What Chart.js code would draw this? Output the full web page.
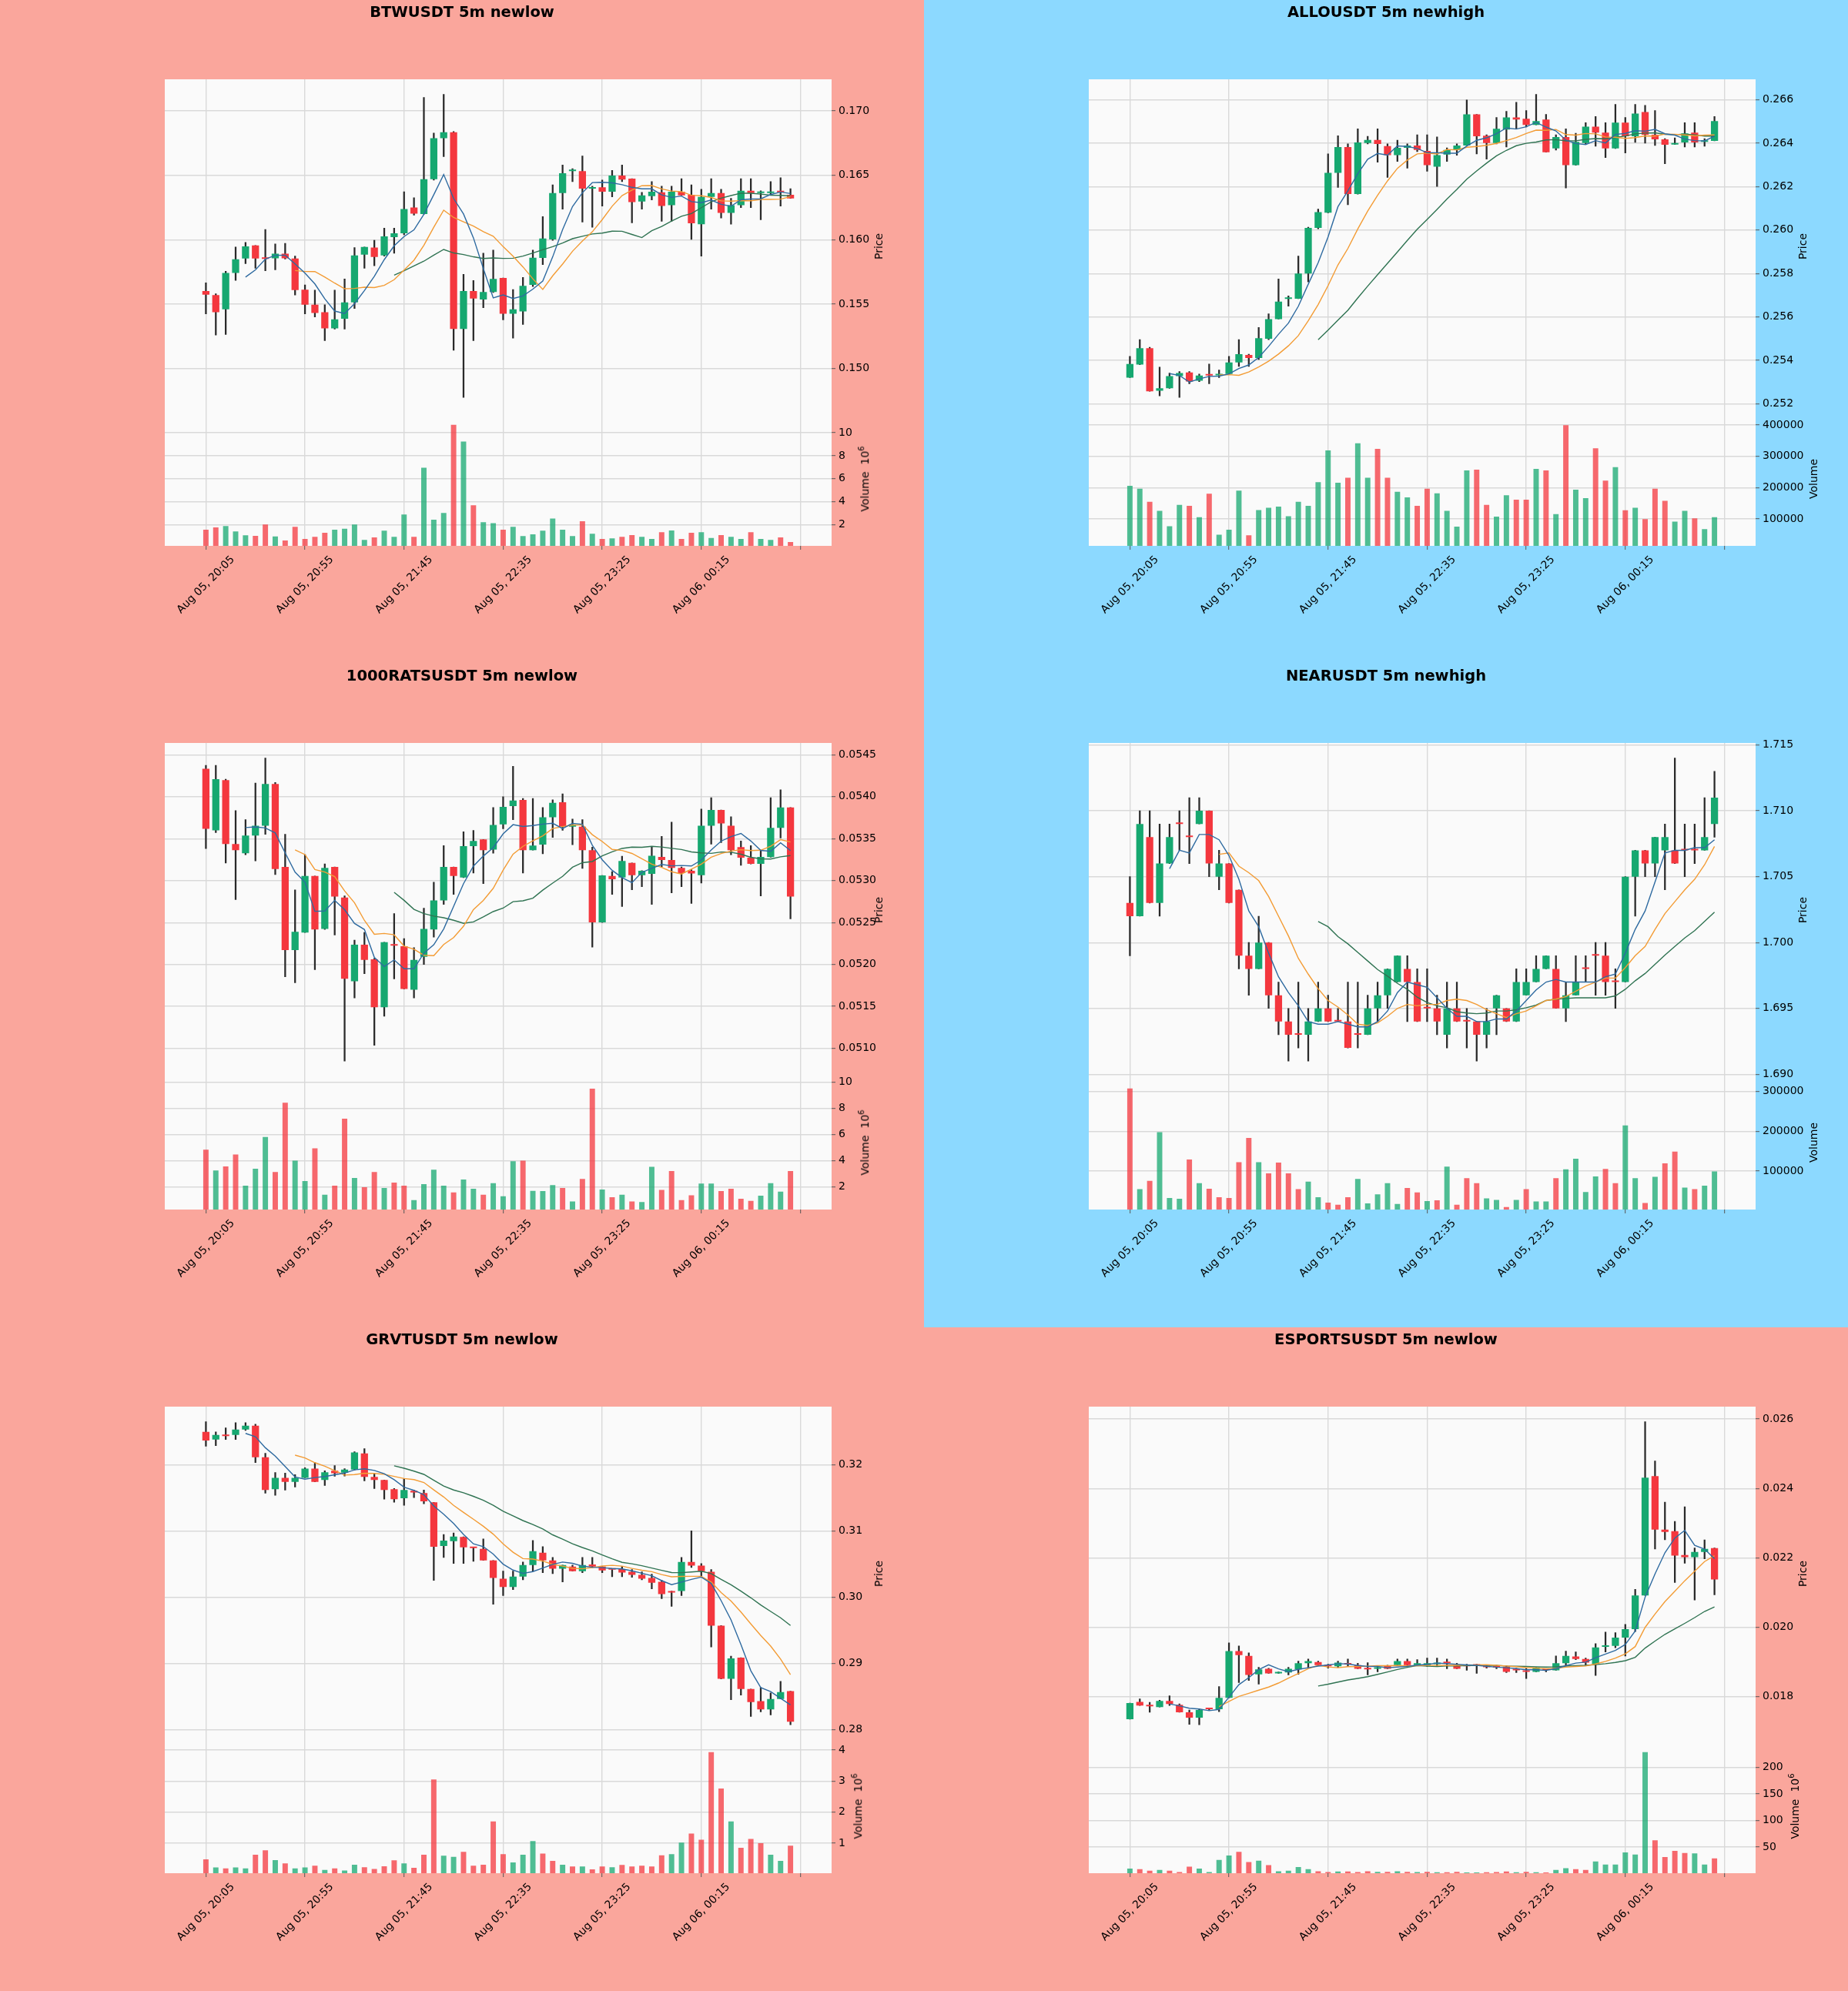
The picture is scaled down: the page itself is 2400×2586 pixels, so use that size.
<!DOCTYPE html>
<html>
<head>
<meta charset="utf-8">
<script src="https://cdn.jsdelivr.net/npm/chart.js@4.4.1/dist/chart.umd.min.js"></script>
<style>
  body { margin: 0; width: 2400px; height: 2586px; position: relative; overflow: hidden; background: #fff; font-family: "DejaVu Sans", sans-serif; }
  .panel { position: absolute; width: 1200px; height: 862px; }
  .panel canvas { position: absolute; left: 0; top: 0; }
  .ttl { position: absolute; left: 0; top: 4px; width: 1200px; text-align: center; font-weight: bold; font-size: 19.5px; color: #000; }
  .ylab { position: absolute; font-size: 14px; color: #000; white-space: nowrap; transform: translate(-50%, -50%) rotate(-90deg); }
  .ylab sup { font-size: 10px; }
</style>
</head>
<body>
<script>
// time axis, shared by all six charts (one tick every 10 candles)
const timeTickAt = [0, 10, 20, 30, 40, 50, 60];
const timeLabels = ['Aug 05, 20:05', 'Aug 05, 20:55', 'Aug 05, 21:45', 'Aug 05, 22:35', 'Aug 05, 23:25', 'Aug 06, 00:15', ''];

// BTWUSDT
const btwOpen = [0.15602,0.15571,0.15460,0.15743,0.15854,0.15956,0.15858,0.15856,0.15892,0.15854,
  0.15613,0.15496,0.15437,0.15312,0.15387,0.15514,0.15885,0.15939,0.15878,0.16021,
  0.16050,0.16250,0.16199,0.16470,0.16788,0.16835,0.15307,0.15602,0.15536,0.15595,
  0.15703,0.15425,0.15444,0.15649,0.15859,0.16003,0.16363,0.16533,0.16533,0.16397,
  0.16408,0.16373,0.16498,0.16474,0.16297,0.16339,0.16368,0.16269,0.16373,0.16349,
  0.16120,0.16333,0.16363,0.16208,0.16269,0.16380,0.16363,0.16363,0.16372,0.16349];
const btwHigh = [0.15665,0.15580,0.15755,0.15944,0.15979,0.15956,0.16080,0.15967,0.15972,0.15873,
  0.15649,0.15609,0.15496,0.15609,0.15696,0.15939,0.15944,0.15996,0.16090,0.16090,
  0.16373,0.16326,0.17104,0.16828,0.17128,0.16840,0.15732,0.15684,0.15896,0.15920,
  0.15703,0.15614,0.15708,0.15920,0.16180,0.16427,0.16580,0.16552,0.16651,0.16416,
  0.16463,0.16538,0.16580,0.16474,0.16368,0.16451,0.16416,0.16416,0.16474,0.16427,
  0.16392,0.16474,0.16392,0.16321,0.16474,0.16474,0.16380,0.16451,0.16481,0.16396];
const btwLow = [0.15425,0.15260,0.15264,0.15684,0.15814,0.15779,0.15760,0.15767,0.15850,0.15571,
  0.15425,0.15401,0.15217,0.15307,0.15307,0.15467,0.15779,0.15798,0.15873,0.15896,
  0.16038,0.16191,0.16199,0.16463,0.16646,0.15142,0.14776,0.15217,0.15472,0.15590,
  0.15378,0.15236,0.15342,0.15637,0.15807,0.15996,0.16238,0.16451,0.16137,0.16097,
  0.16262,0.16333,0.16451,0.16132,0.16238,0.16309,0.16144,0.16144,0.16345,0.16003,
  0.15873,0.16238,0.16168,0.16121,0.16250,0.16250,0.16156,0.16345,0.16262,0.16321];
const btwClose = [0.15573,0.15437,0.15743,0.15849,0.15948,0.15854,0.15852,0.15892,0.15856,0.15609,
  0.15496,0.15432,0.15312,0.15382,0.15514,0.15878,0.15944,0.15866,0.16026,0.16050,
  0.16238,0.16203,0.16470,0.16788,0.16835,0.15307,0.15602,0.15543,0.15595,0.15696,
  0.15425,0.15460,0.15642,0.15861,0.16010,0.16363,0.16517,0.16538,0.16397,0.16404,
  0.16373,0.16498,0.16467,0.16293,0.16344,0.16373,0.16262,0.16373,0.16345,0.16128,
  0.16333,0.16363,0.16208,0.16269,0.16380,0.16363,0.16370,0.16372,0.16368,0.16321];
const btwVolume = [1.55,1.76,1.87,1.41,1.07,1.01,2.0,0.96,0.61,1.81,
  0.75,0.93,1.28,1.55,1.63,2.0,0.67,0.88,1.47,0.93,
  2.88,0.93,6.96,2.43,3.01,10.69,9.23,3.68,2.21,2.13,
  1.55,1.81,1.0,1.15,1.47,2.53,1.55,1.0,2.29,1.2,
  0.75,0.8,0.93,1.09,0.93,0.75,1.33,1.49,0.75,1.28,
  1.33,0.83,1.09,0.93,0.75,1.33,0.75,0.67,0.88,0.48];
const btwPriceTicks = [0.150, 0.155, 0.160, 0.165, 0.170];
const btwVolumeTicks = [2, 4, 6, 8, 10];

// ALLOUSDT
const alloOpen = [0.25320,0.25380,0.25456,0.25260,0.25271,0.25327,0.25344,0.25306,0.25332,0.25331,
  0.25337,0.25390,0.25425,0.25411,0.25499,0.25590,0.25683,0.25684,0.25800,0.26010,
  0.26080,0.26264,0.26383,0.26166,0.26401,0.26415,0.26387,0.26345,0.26379,0.26390,
  0.26365,0.26292,0.26348,0.26369,0.26390,0.26533,0.26435,0.26401,0.26463,0.26519,
  0.26513,0.26485,0.26509,0.26376,0.26429,0.26299,0.26401,0.26477,0.26449,0.26376,
  0.26495,0.26432,0.26544,0.26439,0.26418,0.26394,0.26404,0.26449,0.26407,0.26411];
const alloHigh = [0.25418,0.25495,0.25460,0.25369,0.25341,0.25348,0.25348,0.25337,0.25383,0.25355,
  0.25418,0.25495,0.25428,0.25551,0.25614,0.25775,0.25697,0.25880,0.26013,0.26097,
  0.26351,0.26435,0.26397,0.26467,0.26432,0.26467,0.26397,0.26414,0.26397,0.26439,
  0.26439,0.26429,0.26379,0.26397,0.26600,0.26533,0.26439,0.26519,0.26547,0.26589,
  0.26551,0.26625,0.26533,0.26439,0.26467,0.26446,0.26495,0.26523,0.26495,0.26579,
  0.26519,0.26579,0.26575,0.26551,0.26421,0.26425,0.26495,0.26495,0.26421,0.26523];
const alloLow = [0.25320,0.25380,0.25257,0.25236,0.25271,0.25229,0.25292,0.25302,0.25292,0.25320,
  0.25334,0.25372,0.25372,0.25404,0.25495,0.25590,0.25649,0.25684,0.25761,0.26006,
  0.26080,0.26197,0.26117,0.26166,0.26397,0.26313,0.26243,0.26316,0.26285,0.26362,
  0.26271,0.26201,0.26316,0.26345,0.26390,0.26351,0.26327,0.26397,0.26383,0.26467,
  0.26475,0.26485,0.26359,0.26369,0.26194,0.26299,0.26397,0.26386,0.26334,0.26376,
  0.26355,0.26404,0.26401,0.26390,0.26306,0.26394,0.26383,0.26383,0.26386,0.26411];
const alloClose = [0.25383,0.25456,0.25257,0.25271,0.25327,0.25341,0.25302,0.25330,0.25330,0.25334,
  0.25390,0.25428,0.25411,0.25502,0.25590,0.25670,0.25684,0.25800,0.26010,0.26083,
  0.26264,0.26383,0.26166,0.26404,0.26415,0.26397,0.26345,0.26379,0.26390,0.26369,
  0.26299,0.26345,0.26369,0.26390,0.26533,0.26432,0.26401,0.26467,0.26519,0.26509,
  0.26485,0.26502,0.26359,0.26429,0.26299,0.26407,0.26477,0.26449,0.26376,0.26495,
  0.26432,0.26537,0.26439,0.26418,0.26393,0.26401,0.26446,0.26404,0.26411,0.26502];
const alloVolume = [206000,197000,155000,126000,77000,145000,142000,106000,181000,50000,
  66000,191000,48000,129000,136000,140000,109000,155000,142000,218000,
  319000,216000,232000,342000,232000,324000,232000,187000,169000,142000,
  197000,182000,126000,76000,255000,258000,145000,108000,176000,162000,
  162000,260000,255000,116000,400000,194000,167000,326000,223000,266000,
  128000,136000,100000,197000,158000,92000,126000,102000,68000,106000];
const alloPriceTicks = [0.252, 0.254, 0.256, 0.258, 0.260, 0.262, 0.264, 0.266];
const alloVolumeTicks = [100000, 200000, 300000, 400000];

// 1000RATSUSDT
const ratsOpen = [0.054333,0.053599,0.054198,0.053435,0.053326,0.053537,0.053653,0.054151,0.053163,0.052171,
  0.052381,0.053054,0.052425,0.053163,0.052799,0.051800,0.052236,0.052061,0.051491,0.052243,
  0.052218,0.051698,0.052091,0.052418,0.052763,0.053163,0.053036,0.053410,0.053490,0.053370,
  0.053671,0.053889,0.053962,0.053363,0.053428,0.053755,0.053933,0.053642,0.053642,0.053363,
  0.052501,0.053054,0.053036,0.053210,0.053065,0.053080,0.053283,0.053246,0.053152,0.053116,
  0.053065,0.053653,0.053842,0.053653,0.053399,0.053272,0.053199,0.053279,0.053628,0.053871];
const ratsHigh = [0.054373,0.054373,0.054209,0.053835,0.053726,0.054162,0.054460,0.054169,0.053552,0.052890,
  0.053308,0.053054,0.053199,0.053163,0.052817,0.052291,0.052381,0.052072,0.052265,0.052607,
  0.052309,0.052200,0.052672,0.052981,0.053417,0.053163,0.053581,0.053599,0.053490,0.053871,
  0.053999,0.054362,0.053980,0.053980,0.053871,0.053962,0.054035,0.053733,0.053726,0.053399,
  0.053061,0.053108,0.053290,0.053210,0.053119,0.053399,0.053526,0.053697,0.053163,0.053130,
  0.053853,0.053988,0.053842,0.053762,0.053472,0.053417,0.053363,0.053988,0.054082,0.053871];
const ratsLow = [0.053381,0.053573,0.053210,0.052774,0.053308,0.053235,0.053552,0.053072,0.051854,0.051782,
  0.052381,0.051938,0.052418,0.052352,0.050848,0.051600,0.051891,0.051037,0.051382,0.051829,
  0.051709,0.051600,0.052000,0.052327,0.052716,0.052836,0.053036,0.053090,0.052963,0.053326,
  0.053617,0.053726,0.053090,0.053363,0.053319,0.053515,0.053599,0.053428,0.053145,0.052207,
  0.052501,0.052836,0.052690,0.052890,0.052927,0.052716,0.053163,0.052854,0.052927,0.052727,
  0.052970,0.053435,0.053453,0.053308,0.053181,0.053199,0.052817,0.053279,0.053508,0.052545];
const ratsClose = [0.053617,0.054209,0.053435,0.053363,0.053537,0.053653,0.054151,0.053137,0.052171,0.052389,
  0.053054,0.052418,0.053152,0.052810,0.051829,0.052236,0.052054,0.051491,0.052265,0.052225,
  0.051709,0.052054,0.052425,0.052763,0.053163,0.053054,0.053410,0.053472,0.053363,0.053664,
  0.053879,0.053955,0.053363,0.053417,0.053755,0.053926,0.053642,0.053671,0.053363,0.052501,
  0.053061,0.053017,0.053235,0.053065,0.053116,0.053297,0.053246,0.053152,0.053090,0.053085,
  0.053653,0.053842,0.053682,0.053363,0.053272,0.053199,0.053283,0.053628,0.053871,0.052810];
const ratsVolume = [4.83,3.24,3.54,4.45,2.07,3.36,5.80,3.12,8.41,3.99,
  2.42,4.92,1.38,2.07,7.20,2.66,1.96,3.12,1.89,2.31,
  2.07,0.96,2.19,3.29,2.07,1.56,2.54,1.84,1.38,2.26,
  1.26,3.94,3.99,1.68,1.66,2.12,1.89,0.86,2.59,9.49,
  1.77,1.19,1.38,0.86,0.82,3.52,1.75,3.19,0.96,1.33,
  2.24,2.24,1.66,1.84,1.07,0.91,1.31,2.26,1.61,3.19];
const ratsPriceTicks = [0.0510, 0.0515, 0.0520, 0.0525, 0.0530, 0.0535, 0.0540, 0.0545];
const ratsVolumeTicks = [2, 4, 6, 8, 10];

// NEARUSDT
const nearOpen = [1.703,1.702,1.708,1.703,1.706,1.709,1.708,1.709,1.710,1.705,
  1.706,1.704,1.699,1.698,1.700,1.696,1.694,1.693,1.693,1.694,
  1.695,1.694,1.694,1.693,1.693,1.695,1.696,1.697,1.698,1.697,
  1.695,1.695,1.693,1.695,1.694,1.694,1.693,1.695,1.695,1.694,
  1.696,1.697,1.698,1.698,1.695,1.696,1.698,1.699,1.699,1.697,
  1.697,1.705,1.707,1.706,1.707,1.707,1.707,1.707,1.707,1.709];
const nearHigh = [1.705,1.710,1.710,1.709,1.709,1.710,1.711,1.711,1.710,1.707,
  1.706,1.704,1.700,1.702,1.700,1.697,1.695,1.697,1.695,1.697,
  1.696,1.695,1.697,1.697,1.696,1.697,1.698,1.699,1.699,1.698,
  1.698,1.696,1.697,1.697,1.695,1.694,1.695,1.696,1.695,1.698,
  1.698,1.699,1.699,1.699,1.697,1.699,1.699,1.700,1.700,1.698,
  1.705,1.707,1.707,1.708,1.709,1.714,1.709,1.709,1.711,1.713];
const nearLow = [1.699,1.702,1.703,1.702,1.706,1.707,1.706,1.709,1.705,1.704,
  1.703,1.698,1.696,1.698,1.695,1.693,1.691,1.692,1.691,1.694,
  1.694,1.694,1.692,1.692,1.693,1.694,1.695,1.697,1.694,1.694,
  1.694,1.693,1.692,1.694,1.692,1.691,1.692,1.693,1.694,1.694,
  1.696,1.697,1.698,1.695,1.694,1.696,1.697,1.696,1.696,1.695,
  1.697,1.702,1.705,1.705,1.704,1.706,1.705,1.706,1.707,1.708];
const nearClose = [1.702,1.709,1.703,1.706,1.708,1.709,1.708,1.710,1.706,1.706,
  1.703,1.699,1.698,1.700,1.696,1.694,1.693,1.693,1.694,1.695,
  1.694,1.694,1.692,1.693,1.695,1.696,1.698,1.699,1.697,1.694,
  1.695,1.694,1.695,1.694,1.694,1.693,1.694,1.696,1.694,1.697,
  1.697,1.698,1.699,1.695,1.696,1.697,1.698,1.699,1.697,1.697,
  1.705,1.707,1.706,1.708,1.708,1.706,1.707,1.707,1.708,1.711];
const nearVolume = [308000,54000,75000,198000,32000,30000,129000,69000,55000,34000,
  32000,122000,183000,122000,94000,121000,94000,54000,73000,34000,
  20000,15000,34000,80000,18000,41000,69000,17000,57000,46000,
  24000,26000,111000,15000,82000,69000,31000,27000,9000,27000,
  54000,23000,23000,82000,104000,131000,47000,86000,105000,69000,
  215000,82000,19000,85000,119000,149000,58000,54000,63000,99000];
const nearPriceTicks = [1.690, 1.695, 1.700, 1.705, 1.710, 1.715];
const nearVolumeTicks = [100000, 200000, 300000];

// GRVTUSDT
const grvtOpen = [0.32494,0.32379,0.32434,0.32448,0.32531,0.32587,0.32111,0.31630,0.31801,0.31741,
  0.31801,0.31940,0.31769,0.31908,0.31880,0.31926,0.32171,0.31815,0.31769,0.31630,
  0.31492,0.31607,0.31570,0.31432,0.30771,0.30845,0.30910,0.30753,0.30730,0.30554,
  0.30277,0.30152,0.30309,0.30485,0.30670,0.30554,0.30430,0.30462,0.30393,0.30494,
  0.30462,0.30416,0.30425,0.30383,0.30337,0.30291,0.30231,0.30069,0.30092,0.30531,
  0.30476,0.30383,0.29570,0.28767,0.29086,0.28614,0.28430,0.28305,0.28462,0.28582];
const grvtHigh = [0.32647,0.32494,0.32554,0.32633,0.32633,0.32610,0.32171,0.31880,0.31871,0.31848,
  0.31954,0.32032,0.31908,0.31986,0.31940,0.32194,0.32240,0.31871,0.31769,0.31640,
  0.31788,0.31617,0.31617,0.31432,0.30947,0.30970,0.30910,0.30753,0.30878,0.30554,
  0.30393,0.30393,0.30531,0.30855,0.30762,0.30600,0.30485,0.30485,0.30600,0.30600,
  0.30462,0.30416,0.30462,0.30416,0.30383,0.30346,0.30254,0.30092,0.30600,0.31002,
  0.30508,0.30416,0.29570,0.29109,0.29086,0.28614,0.28637,0.28554,0.28730,0.28582];
const grvtLow = [0.32277,0.32286,0.32379,0.32379,0.32517,0.32032,0.31570,0.31538,0.31617,0.31663,
  0.31801,0.31741,0.31686,0.31824,0.31829,0.31917,0.31755,0.31640,0.31478,0.31432,
  0.31386,0.31501,0.31409,0.30254,0.30600,0.30508,0.30508,0.30540,0.30554,0.29894,
  0.30023,0.30115,0.30263,0.30393,0.30370,0.30356,0.30231,0.30393,0.30370,0.30448,
  0.30370,0.30309,0.30309,0.30300,0.30263,0.30125,0.29977,0.29861,0.30023,0.30448,
  0.30323,0.29247,0.28767,0.28453,0.28522,0.28199,0.28268,0.28222,0.28462,0.28074];
const grvtClose = [0.32365,0.32448,0.32430,0.32531,0.32587,0.32111,0.31617,0.31801,0.31741,0.31801,
  0.31940,0.31741,0.31885,0.31871,0.31926,0.32185,0.31815,0.31769,0.31617,0.31478,
  0.31617,0.31580,0.31446,0.30762,0.30854,0.30915,0.30753,0.30739,0.30554,0.30291,
  0.30152,0.30309,0.30485,0.30693,0.30554,0.30430,0.30485,0.30393,0.30485,0.30462,
  0.30402,0.30416,0.30370,0.30337,0.30277,0.30217,0.30046,0.30069,0.30531,0.30476,
  0.30393,0.29570,0.28767,0.29076,0.28614,0.28416,0.28305,0.28462,0.28568,0.28120];
const grvtVolume = [0.48,0.22,0.19,0.22,0.19,0.63,0.77,0.46,0.35,0.19,
  0.22,0.28,0.14,0.19,0.12,0.31,0.23,0.17,0.26,0.45,
  0.35,0.21,0.63,3.05,0.60,0.56,0.72,0.28,0.31,1.70,
  0.65,0.38,0.63,1.07,0.67,0.43,0.31,0.25,0.25,0.16,
  0.25,0.23,0.30,0.25,0.28,0.25,0.61,0.65,1.02,1.31,
  1.11,3.93,2.76,1.70,0.85,1.14,1.00,0.63,0.43,0.92];
const grvtPriceTicks = [0.28, 0.29, 0.30, 0.31, 0.32];
const grvtVolumeTicks = [1, 2, 3, 4];

// ESPORTSUSDT
const espOpen = [0.017349,0.017850,0.017763,0.017701,0.017877,0.017763,0.017551,0.017393,0.017640,0.017640,
  0.017965,0.019313,0.019172,0.018644,0.018802,0.018670,0.018696,0.018785,0.018961,0.018996,
  0.018908,0.018873,0.018961,0.018908,0.018820,0.018802,0.018890,0.018908,0.019023,0.018908,
  0.018890,0.018935,0.018961,0.018908,0.018873,0.018890,0.018890,0.018873,0.018864,0.018758,
  0.018758,0.018714,0.018767,0.018758,0.018961,0.019155,0.019085,0.018935,0.019437,0.019463,
  0.019701,0.019947,0.020917,0.024353,0.022811,0.022767,0.022080,0.022018,0.022168,0.022282];
const espHigh = [0.017815,0.017938,0.017834,0.017895,0.018027,0.017789,0.017613,0.017640,0.017657,0.018291,
  0.019551,0.019463,0.019260,0.018846,0.018820,0.018714,0.018846,0.019023,0.019085,0.019023,
  0.018935,0.019023,0.019085,0.018961,0.018979,0.018864,0.018908,0.019085,0.019085,0.019067,
  0.019111,0.019111,0.019085,0.018961,0.018935,0.018935,0.018908,0.018908,0.018890,0.018820,
  0.018820,0.018846,0.018802,0.019172,0.019313,0.019287,0.019111,0.019525,0.019859,0.019842,
  0.020080,0.021093,0.025921,0.024793,0.023604,0.023049,0.023471,0.022282,0.022520,0.022282];
const espLow = [0.017349,0.017745,0.017551,0.017701,0.017745,0.017551,0.017199,0.017190,0.017613,0.017569,
  0.017965,0.018406,0.018467,0.018362,0.018670,0.018670,0.018626,0.018644,0.018846,0.018890,
  0.018820,0.018846,0.018873,0.018802,0.018626,0.018714,0.018802,0.018908,0.018890,0.018890,
  0.018873,0.018890,0.018802,0.018802,0.018758,0.018670,0.018820,0.018802,0.018696,0.018696,
  0.018520,0.018714,0.018714,0.018758,0.018890,0.019067,0.018908,0.018609,0.019287,0.019410,
  0.019172,0.019877,0.020917,0.022256,0.022520,0.021287,0.021843,0.020784,0.021974,0.020934];
const espClose = [0.017815,0.017745,0.017719,0.017877,0.017789,0.017551,0.017393,0.017613,0.017640,0.017965,
  0.019313,0.019199,0.018626,0.018785,0.018670,0.018714,0.018802,0.018961,0.019023,0.018908,
  0.018873,0.018979,0.018926,0.018802,0.018785,0.018847,0.018802,0.019023,0.018908,0.018961,
  0.018961,0.018979,0.018961,0.018802,0.018873,0.018890,0.018846,0.018838,0.018714,0.018758,
  0.018714,0.018846,0.018767,0.018961,0.019172,0.019085,0.018979,0.019419,0.019472,0.019701,
  0.019947,0.020917,0.024308,0.022811,0.022749,0.022062,0.022018,0.022168,0.022256,0.021375];
const espVolume = [9.4,8.3,5.4,6.6,5.4,2.6,12.9,9.4,2.6,25.5,
  34.1,41.0,21.5,24.3,15.7,4.3,5.4,12.3,8.3,4.3,
  2.6,3.7,3.7,2.6,4.3,3.2,3.2,4.3,3.2,2.6,
  3.0,2.5,2.5,3.0,2.0,2.0,2.5,2.8,4.0,2.5,
  3.0,2.5,2.0,6.6,10.0,8.3,6.6,22.6,16.9,16.9,
  39.8,35.8,228.8,62.7,31.2,42.7,38.7,38.1,16.9,28.4];
const espPriceTicks = [0.018, 0.020, 0.022, 0.024, 0.026];
const espVolumeTicks = [50, 100, 150, 200];

const maLengths = [5, 10, 20];
const maColors = ['#2e6aa0', '#f39c35', '#2f7352'];
const upColor = '#16a870', downColor = '#f4373e';
const upVolColor = 'rgba(22,168,112,0.75)', downVolColor = 'rgba(244,55,62,0.75)';
const wickColor = '#2a2a2a';
const lowBg = '#faa69c', highBg = '#8cd9ff';

Chart.defaults.font.family = 'DejaVu Sans';
Chart.defaults.font.size = 14;
Chart.defaults.color = '#000';

const panels = [
  { title: 'BTWUSDT 5m newlow', bg: lowBg, x: 0, y: 0, open: btwOpen, high: btwHigh, low: btwLow, close: btwClose,
    volume: btwVolume, priceTicks: btwPriceTicks, digits: 3, volumeTicks: btwVolumeTicks, exp: true, volLabelX: 1122 },
  { title: 'ALLOUSDT 5m newhigh', bg: highBg, x: 1200, y: 0, open: alloOpen, high: alloHigh, low: alloLow, close: alloClose,
    volume: alloVolume, priceTicks: alloPriceTicks, digits: 3, volumeTicks: alloVolumeTicks, exp: false, volLabelX: 1155 },
  { title: '1000RATSUSDT 5m newlow', bg: lowBg, x: 0, y: 862, open: ratsOpen, high: ratsHigh, low: ratsLow, close: ratsClose,
    volume: ratsVolume, priceTicks: ratsPriceTicks, digits: 4, volumeTicks: ratsVolumeTicks, exp: true, volLabelX: 1122 },
  { title: 'NEARUSDT 5m newhigh', bg: highBg, x: 1200, y: 862, open: nearOpen, high: nearHigh, low: nearLow, close: nearClose,
    volume: nearVolume, priceTicks: nearPriceTicks, digits: 3, volumeTicks: nearVolumeTicks, exp: false, volLabelX: 1155 },
  { title: 'GRVTUSDT 5m newlow', bg: lowBg, x: 0, y: 1724, open: grvtOpen, high: grvtHigh, low: grvtLow, close: grvtClose,
    volume: grvtVolume, priceTicks: grvtPriceTicks, digits: 2, volumeTicks: grvtVolumeTicks, exp: true, volLabelX: 1113 },
  { title: 'ESPORTSUSDT 5m newlow', bg: lowBg, x: 1200, y: 1724, open: espOpen, high: espHigh, low: espLow, close: espClose,
    volume: espVolume, priceTicks: espPriceTicks, digits: 3, volumeTicks: espVolumeTicks, exp: true, volLabelX: 1130 }
];

// plot face colour behind the grid
const facePlugin = {
  id: 'face',
  beforeDraw(chart) {
    const a = chart.chartArea, ctx = chart.ctx;
    ctx.save();
    ctx.fillStyle = '#fafafa';
    ctx.fillRect(a.left, a.top, a.right - a.left, a.bottom - a.top);
    ctx.restore();
  }
};

// 45 degree time labels centred under their tick (matplotlib style)
const timeLabelPlugin = {
  id: 'timeLabels',
  afterDraw(chart) {
    const xs = chart.scales.x, ctx = chart.ctx;
    const top = chart.chartArea.bottom + 10;
    ctx.save();
    ctx.font = '14px "DejaVu Sans"';
    ctx.fillStyle = '#000';
    ctx.textAlign = 'center';
    ctx.textBaseline = 'middle';
    timeTickAt.forEach((t, k) => {
      const label = timeLabels[k];
      if (!label) return;
      const half = (ctx.measureText(label).width + 16) * Math.SQRT1_2 / 2;
      ctx.save();
      ctx.translate(xs.getPixelForValue(t), top + half);
      ctx.rotate(-Math.PI / 4);
      ctx.fillText(label, 0, 0);
      ctx.restore();
    });
    ctx.restore();
  }
};

function movingAverage(values, n) {
  const out = [];
  for (let i = n - 1; i < values.length; i++) {
    let s = 0;
    for (let k = i - n + 1; k <= i; k++) s += values[k];
    out.push({ x: i, y: s / n });
  }
  return out;
}

function makePanel(p) {
  const box = document.createElement('div');
  box.className = 'panel';
  box.style.left = p.x + 'px';
  box.style.top = p.y + 'px';
  box.style.background = p.bg;
  document.body.appendChild(box);

  const canvas = document.createElement('canvas');
  canvas.width = 1200;
  canvas.height = 862;
  box.appendChild(canvas);

  const title = document.createElement('div');
  title.className = 'ttl';
  title.textContent = p.title;
  box.appendChild(title);

  const priceLabel = document.createElement('div');
  priceLabel.className = 'ylab';
  priceLabel.style.left = '1141px';
  priceLabel.style.top = '320px';
  priceLabel.textContent = 'Price';
  box.appendChild(priceLabel);

  const volLabel = document.createElement('div');
  volLabel.className = 'ylab';
  volLabel.style.left = p.volLabelX + 'px';
  volLabel.style.top = '622px';
  volLabel.innerHTML = p.exp ? 'Volume&nbsp;&nbsp;10<sup>6</sup>' : 'Volume';
  box.appendChild(volLabel);

  const lo = Math.min(...p.low), hi = Math.max(...p.high);
  const pad = (hi - lo) * 0.05;

  const datasets = [];
  datasets.push({
    type: 'bar', yAxisID: 'y', order: 3, grouped: false,
    data: p.close.map((c, i) => ({ x: i, y: [p.low[i], p.high[i]] })),
    backgroundColor: wickColor, barThickness: 1.6
  });
  datasets.push({
    type: 'bar', yAxisID: 'y', order: 2, grouped: false,
    data: p.close.map((c, i) => ({ x: i, y: [p.open[i], c] })),
    backgroundColor: p.close.map((c, i) => c > p.open[i] ? upColor : downColor),
    barPercentage: 0.72, categoryPercentage: 1, minBarLength: 2
  });
  maLengths.forEach((len, k) => {
    datasets.push({
      type: 'line', yAxisID: 'y', order: 0,
      data: movingAverage(p.close, len),
      borderColor: maColors[k], borderWidth: 1.4, pointRadius: 0, tension: 0
    });
  });
  datasets.push({
    type: 'bar', yAxisID: 'v', order: 2, grouped: false,
    data: p.volume.map((v, i) => ({ x: i, y: v })),
    backgroundColor: p.close.map((c, i) => c > (i === 0 ? p.open[0] : p.close[i - 1]) ? upVolColor : downVolColor),
    barPercentage: 0.54, categoryPercentage: 1
  });

  const gridStyle = { color: '#d9d9d9', lineWidth: 1.4, tickLength: 5, tickColor: '#555', tickWidth: 1 };

  new Chart(canvas, {
    type: 'bar',
    data: { datasets },
    options: {
      responsive: false,
      animation: false,
      devicePixelRatio: 1,
      layout: { padding: { left: 214, top: 103, right: 0, bottom: 0 } },
      plugins: { legend: { display: false }, tooltip: { enabled: false } },
      scales: {
        x: {
          type: 'linear', min: -4.15, max: 63.15, offset: false,
          grid: Object.assign({ offset: false }, gridStyle),
          border: { display: false },
          afterBuildTicks: s => { s.ticks = timeTickAt.map(v => ({ value: v })); },
          afterFit: s => { s.height = 153; },
          ticks: { display: false }
        },
        y: {
          type: 'linear', position: 'right', stack: 'pv', stackWeight: 5,
          min: lo - pad, max: hi + pad,
          grid: gridStyle, border: { display: false },
          afterBuildTicks: s => { s.ticks = p.priceTicks.map(v => ({ value: v })); },
          afterFit: s => { s.width = 120; },
          ticks: { padding: 4, callback: v => v.toFixed(p.digits) }
        },
        v: {
          type: 'linear', position: 'right', stack: 'pv', stackWeight: 2,
          min: Math.min(...p.volume) * 0.3, max: Math.max(...p.volume) * 1.1,
          grid: gridStyle, border: { display: false },
          afterBuildTicks: s => { s.ticks = p.volumeTicks.map(v => ({ value: v })); },
          afterFit: s => { s.width = 120; },
          ticks: { padding: 4, callback: v => String(v) }
        }
      }
    },
    plugins: [facePlugin, timeLabelPlugin]
  });
}

panels.forEach(makePanel);
</script>
</body>
</html>
